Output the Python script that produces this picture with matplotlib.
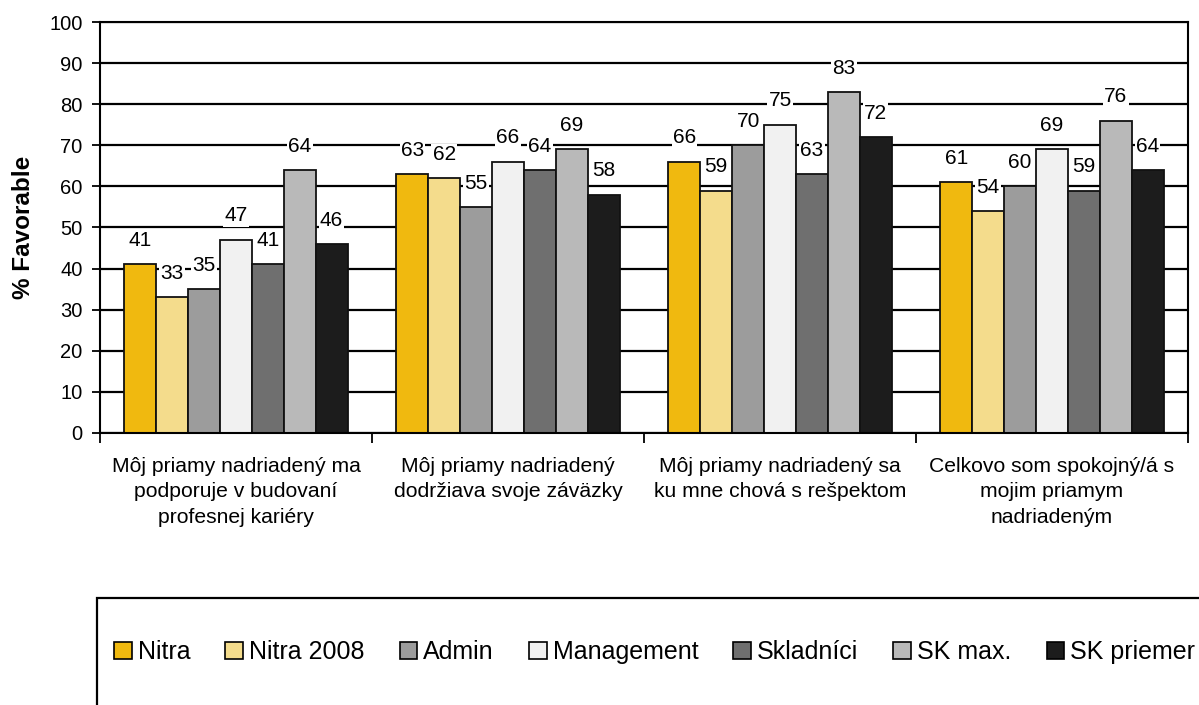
import matplotlib
matplotlib.use("Agg")
import matplotlib.pyplot as plt
from matplotlib.patches import Rectangle, Patch
import numpy as np

plt.rcParams['font.family'] = ['Liberation Sans', 'DejaVu Sans']

categories = [
    "Môj priamy nadriadený ma\npodporuje v budovaní\nprofesnej kariéry",
    "Môj priamy nadriadený\ndodržiava svoje záväzky",
    "Môj priamy nadriadený sa\nku mne chová s rešpektom",
    "Celkovo som spokojný/á s\nmojim priamym\nnadriadeným",
]
series_names = ["Nitra", "Nitra 2008", "Admin", "Management", "Skladníci", "SK max.", "SK priemer"]
nitra = [41, 63, 66, 61]
nitra_2008 = [33, 62, 59, 54]
admin = [35, 55, 70, 60]
management = [47, 66, 75, 69]
skladnici = [41, 64, 63, 59]
sk_max = [64, 69, 83, 76]
sk_priemer = [46, 58, 72, 64]
series = [nitra, nitra_2008, admin, management, skladnici, sk_max, sk_priemer]
colors = ["#F0B90F", "#F4DC8C", "#9C9C9C", "#F1F1F1", "#6F6F6F", "#B9B9B9", "#1C1C1C"]

W, H = 1199, 705
fig = plt.figure(figsize=(W / 100, H / 100), dpi=100)
ax = fig.add_axes([100 / W, 1 - 433 / H, 1088 / W, 411 / H])

n = len(series)
group_w = 0.82
bw = group_w / n
x = np.arange(len(categories))
ax.set_axisbelow(True)
ax.yaxis.grid(True, color="black", linewidth=1.6)
for i, (vals, c) in enumerate(zip(series, colors)):
    pos = x - group_w / 2 + bw * (i + 0.5)
    ax.bar(pos, vals, width=bw, color=c, edgecolor="#111111", linewidth=1.3, zorder=2)
    for p, v in zip(pos, vals):
        ax.text(p, v + 5.8, str(v), ha="center", va="center", fontsize=15,
                bbox=dict(boxstyle="square,pad=0.06", fc="white", ec="none"), zorder=3)

ax.set_xlim(-0.5, 3.5)
ax.set_ylim(0, 100)
ax.set_yticks(range(0, 101, 10))
ax.tick_params(axis="y", labelsize=14.5, length=6, width=1.3, direction="out", pad=6.5)
ax.set_xticks(np.arange(-0.5, 3.6, 1.0))
ax.set_xticklabels([])
ax.set_xticks(x, minor=True)
ax.set_xticklabels(categories, minor=True, fontsize=15.2, linespacing=1.45)
ax.tick_params(axis="x", which="major", length=7, width=1.3, direction="out")
ax.tick_params(axis="x", which="minor", length=0, pad=17)
for s in ax.spines.values():
    s.set_linewidth(1.5)
ax.set_ylabel("% Favorable", fontsize=17.5, fontweight="bold", labelpad=10)

# legend box
fig.patches.append(Rectangle((97 / W, -0.05), 1.2, (1 - 598 / H) + 0.05,
                             transform=fig.transFigure, fill=False,
                             edgecolor="black", linewidth=1.6))
handles = [Patch(facecolor=c, edgecolor="black", linewidth=1.2) for c in colors]
fig.legend(handles, series_names, loc="center left",
           bbox_to_anchor=(104 / W, 1 - 652 / H), ncol=7, frameon=False,
           fontsize=18, handlelength=0.7, handleheight=0.7,
           handletextpad=0.25, columnspacing=1.4, borderaxespad=0)

fig.savefig("out.png", dpi=100)
